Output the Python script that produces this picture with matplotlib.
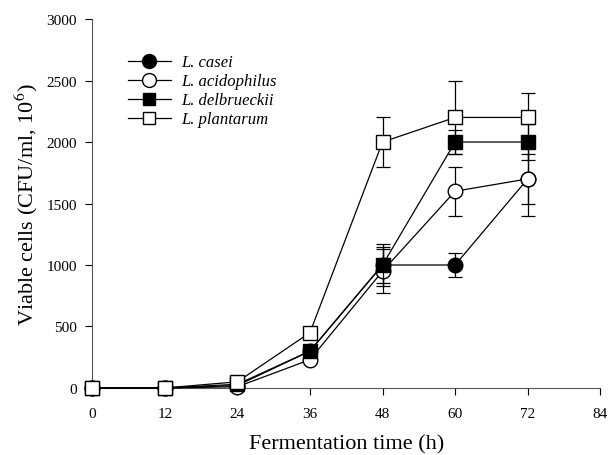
import numpy as np
import matplotlib
matplotlib.use("Agg")
import matplotlib.pyplot as plt
from matplotlib.lines import Line2D

plt.rcParams["font.family"] = ["Liberation Serif", "DejaVu Serif"]
plt.rcParams["mathtext.fontset"] = "stix"

# Data
time = [0, 12, 24, 36, 48, 60, 72]

casei = [0, 0, 20, 300, 1000, 1000, 1700]
casei_err = [0, 0, 0, 0, 170, 100, 200]

acidophilus = [0, 0, 10, 230, 950, 1600, 1700]
acidophilus_err = [0, 0, 0, 0, 180, 200, 300]

delbrueckii = [0, 0, 30, 300, 1000, 2000, 2000]
delbrueckii_err = [0, 0, 0, 0, 150, 100, 150]

plantarum = [0, 0, 50, 450, 2000, 2200, 2200]
plantarum_err = [0, 0, 0, 30, 200, 300, 200]

labels = ["L. casei", "L. acidophilus", "L. delbrueckii", "L. plantarum"]

fig = plt.figure(figsize=(6.15, 4.56), dpi=100)
ax = fig.add_axes([0.15, 0.147, 0.826, 0.809])

series = [
    (casei, casei_err, "o", "black"),
    (acidophilus, acidophilus_err, "o", "white"),
    (delbrueckii, delbrueckii_err, "s", "black"),
    (plantarum, plantarum_err, "s", "white"),
]
handles = []
for i, (vals, errs, mk, fc) in enumerate(series):
    ms = 10.5 if mk == "o" else 9.5
    ax.errorbar(time, vals, yerr=errs, fmt="-", marker=mk, color="black",
                mfc=fc, mec="black", ms=ms, lw=0.9, elinewidth=0.9,
                capsize=5, capthick=0.9, clip_on=False, zorder=3 + i)
    handles.append(Line2D([], [], color="black", lw=0.9, marker=mk,
                          mfc=fc, mec="black", ms=ms - 0.5, label=labels[i]))

ax.set_xlim(0, 84)
ax.set_ylim(0, 3000)
ax.set_xticks(np.arange(0, 85, 12))
ax.set_yticks(np.arange(0, 3001, 500))
ax.spines["top"].set_visible(False)
ax.spines["right"].set_visible(False)
ax.spines["left"].set_color("#555555")
ax.spines["bottom"].set_color("#555555")
ax.tick_params(direction="out", length=5, labelsize=11, colors="black")
ax.tick_params(axis="x", pad=9)
ax.tick_params(axis="y", pad=6)

ax.set_xlabel("Fermentation time (h)", fontsize=16, labelpad=10)
ax.set_ylabel("Viable cells (CFU/ml, 10$^{6}$)", fontsize=16, labelpad=5)

leg = ax.legend(handles=handles, loc="upper left",
                bbox_to_anchor=(0.04, 0.945), frameon=False,
                prop={"style": "italic", "size": 12}, handlelength=2.6,
                labelspacing=0.18, handletextpad=0.6)

fig.savefig("out.png", dpi=100)
